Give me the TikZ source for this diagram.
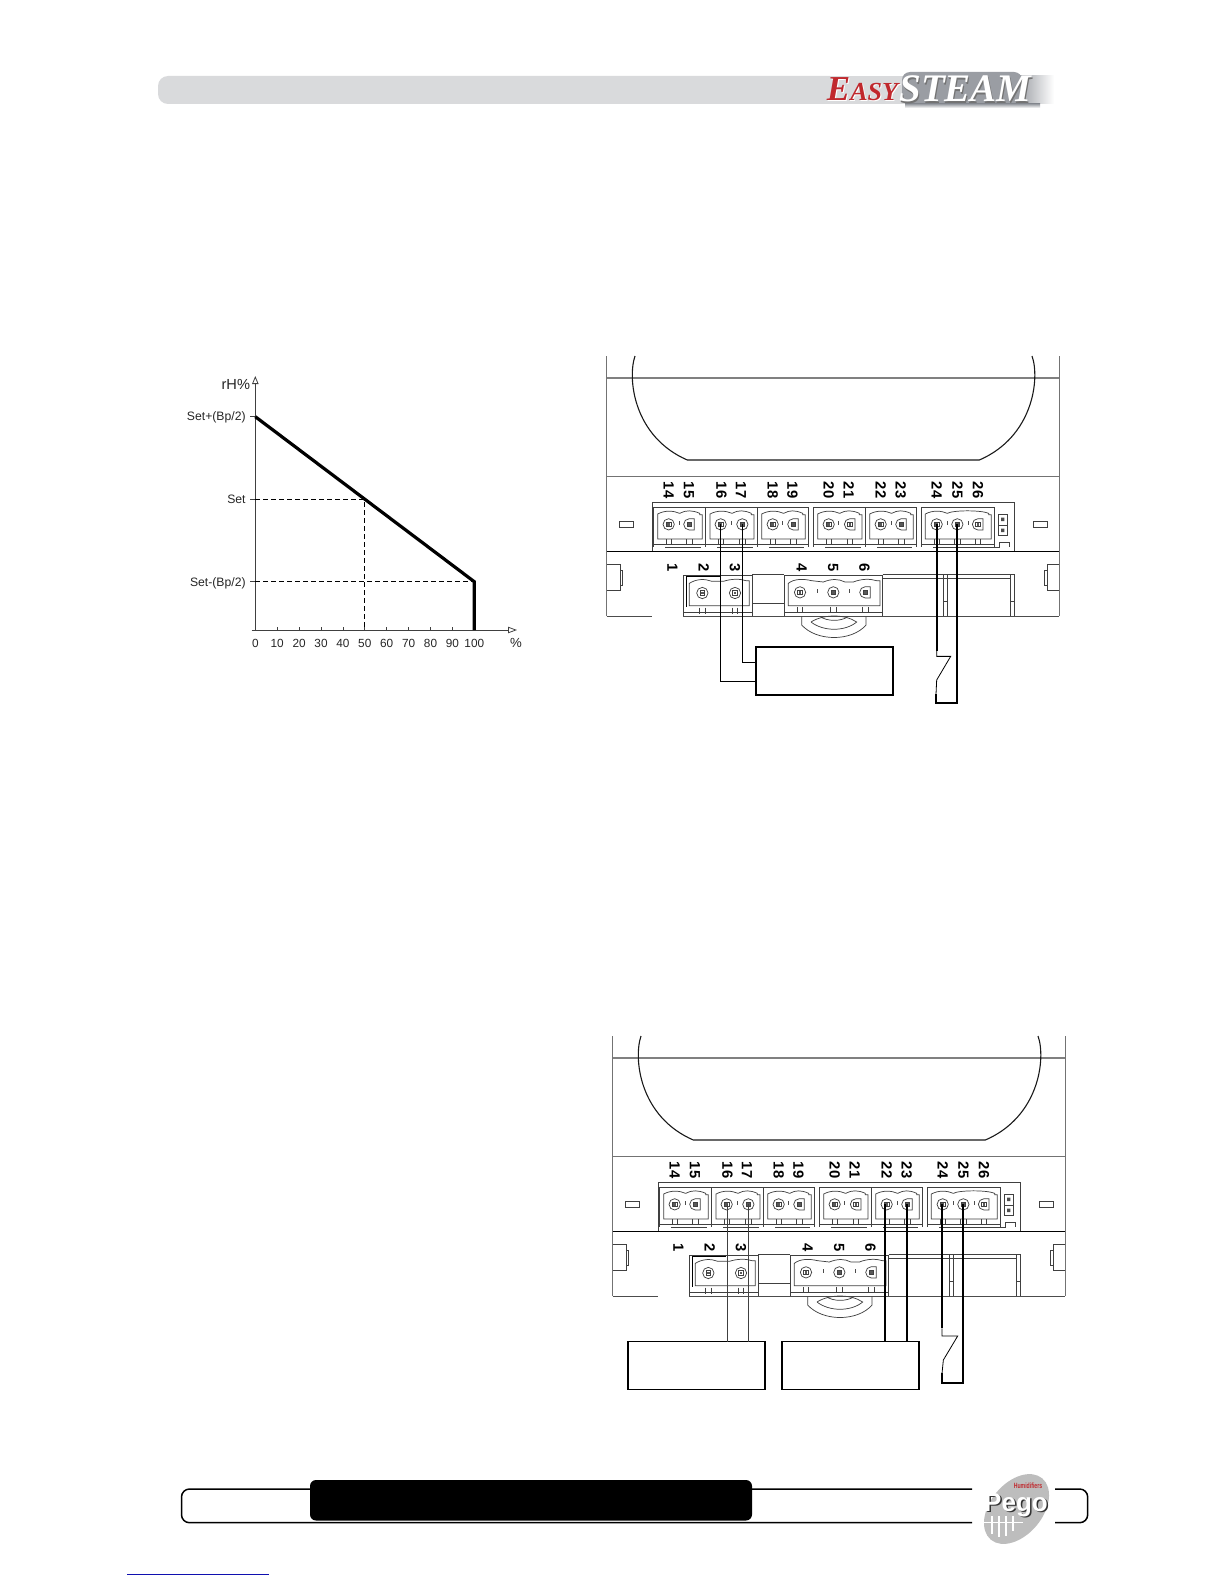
\documentclass[tikz,border=0pt]{standalone}
\usepackage{fontspec}
\setmainfont{Liberation Sans}
\newfontfamily\logoserif{Liberation Serif}
\usetikzlibrary{arrows.meta,calc}
\definecolor{bargray}{HTML}{D9DADC}
\definecolor{plategray}{HTML}{9A9DA3}
\definecolor{logored}{HTML}{C0282D}
\definecolor{logogray}{HTML}{BDBDBD}
\definecolor{linkblue}{HTML}{1010B0}
\tikzset{
  hair/.style={line width=0.36pt,draw=black!75},
  thin wire/.style={line width=0.5pt,draw=black},
  thick wire/.style={line width=0.9pt,draw=black},
  axis line/.style={line width=0.4pt,draw=black!75},
  curve line/.style={line width=1.6pt,draw=black},
  dash line/.style={line width=0.6pt,draw=black,dash pattern=on 2.4pt off 1.6pt},
  numlab/.style={inner sep=0pt,rotate=-90,font=\fontsize{7.4}{7}\selectfont\bfseries},
  ticklab/.style={inner sep=0pt,font=\fontsize{5.9}{6}\selectfont,text=black!85},
  setlab/.style={inner sep=0pt,anchor=east,font=\fontsize{6.1}{6}\selectfont,text=black!85},
  devbox/.style={draw=black,line width=0.85pt,fill=white,inner sep=0pt,minimum width=68.7pt,minimum height=24pt},
}
% one screw terminal: x, y, D-shaped?
\newcommand{\screwpin}[3]{%
  \ifnum#3=1
    \draw[hair] (#1+15,#2-17) -- (#1,#2-17) arc[start angle=-90,end angle=-270,radius=17] -- (#1+15,#2+17) -- cycle;
  \else
    \draw[hair] (#1,#2) circle[radius=17];
  \fi
  \draw[hair] (#1-7,#2-7) rectangle (#1+7,#2+7);
  \fill[black!65] (#1-4,#2-4) rectangle (#1+4,#2+4);
  \draw[hair] (#1-8,#2+44) -- (#1-8,#2+62) (#1+8,#2+44) -- (#1+8,#2+62);
}
% scalloped plug body: left, right, top, bottom
\newcommand{\plugbody}[4]{%
  \draw[hair] (#1,#4) -- (#1,#3+8) .. controls (#1+22,#3-4) and (#1+48,#3-2) .. (#1+66,#3+6)
     .. controls (#1+84,#3-4) and (#2-30,#3-4) .. (#2-8,#3+6) -- (#2-8,#3+10) -- (#2,#3+10) -- (#2,#4) -- cycle;
}
\newcommand{\upgroup}[2]{%
  \draw[hair] (#1,503) -- (#2,503) (#1,503) -- (#1,622) (#2,503) -- (#2,622) (#1,612) -- (#2,612) (#1+35,622) -- (#2-14,622);
  \plugbody{#1+13}{#2-10}{514}{597}
}
\newcommand{\housing}{%
  % outline and cover
  \draw[line width=0.55pt,draw=black!55] (50,48) -- (50,829) (1408,48) -- (1408,829);
  \draw[line width=1.1pt,draw=black!50] (50,115) -- (1408,115);
  \draw[line width=0.5pt,draw=black!55] (50,408) -- (1408,408);
  \draw[line width=0.5pt,draw=black] (50,633) -- (1408,633);
  \draw[line width=0.55pt,draw=black!90] (135,48) .. controls (112,115) and (130,290) .. (292,360) -- (1168,360)
     .. controls (1330,290) and (1350,115) .. (1326,48);
  % upper terminal strip
  \draw[hair] (187,633) -- (187,487) -- (1274,487) -- (1274,633);
  \upgroup{190}{347}\upgroup{347}{502}\upgroup{502}{656}\upgroup{670}{826}\upgroup{826}{980}
  \draw[hair] (993,503) -- (1214,503) (993,503) -- (993,622) (1214,503) -- (1214,622) (993,612) -- (1214,612) (1030,622) -- (1228,622) -- (1228,608) -- (1258,608) -- (1258,622);
  \plugbody{1006}{1204}{514}{597}
  \foreach \p/\d in {236/0,298/1,392/0,457/0,548/0,610/1,716/0,780/1,872/0,934/1,1040/0,1102/0,1164/1}{\screwpin{\p}{553}{\d}}
  \foreach \p in {267,423,578,746,903,1071,1134}{\fill[black!70] (\p-1.5,544) rectangle (\p+1.5,556);}
  % small windows and jumper
  \draw[hair] (88,545) rectangle (130,563) (1331,545) rectangle (1373,563);
  \draw[hair] (1225,524) rectangle (1252,586) (1225,555) -- (1252,555);
  \fill[black!70] (1233,533) rectangle (1243,543) (1233,566) rectangle (1243,576);
  % lower terminal strip
  \draw[hair] (281,829) -- (281,706) -- (487,706) -- (487,829);
  \draw[line width=0.5pt,draw=black] (290,800) -- (290,710) -- (390,710);
  \draw[hair] (298,797) -- (298,730) .. controls (320,716) and (345,716) .. (366,724) -- (400,724) .. controls (425,716) and (450,716) .. (468,722) -- (478,722) -- (478,797) -- cycle;
  \draw[hair] (281,818) -- (487,818);
  \draw[hair] (583,829) -- (583,706) -- (878,706) -- (878,829);
  \draw[hair] (595,797) -- (595,730) .. controls (612,716) and (640,716) .. (665,722) -- (700,726) .. controls (725,716) and (745,716) .. (765,726) -- (790,726) .. controls (815,716) and (840,716) .. (860,722) -- (870,722) -- (870,797) -- cycle;
  \draw[hair] (583,818) -- (878,818);
  \foreach \p/\q/\d in {337/759/0,435/759/0,630/757/0,730/757/0,826/757/1}{\screwpin{\p}{\q}{\d}}
  \foreach \p in {683,778}{\fill[black!70] (\p-1.5,748) rectangle (\p+1.5,760);}
  \draw[hair] (487,703) -- (583,703) (487,790) -- (583,790);
  \draw[hair] (878,703) -- (1274,703) (878,716) -- (1262,716)
     (1060,703) -- (1060,829) (1072,703) -- (1072,829) (1262,703) -- (1262,829) (1274,703) -- (1274,829)
     (1060,785) -- (1072,785) (1262,785) -- (1274,785);
  \draw[line width=0.5pt,draw=black!70] (50,829) -- (185,829) (280,829) -- (1408,829);
  % side clips
  \draw[hair] (50,672) -- (90,672) -- (90,752) -- (50,752) (90,692) -- (97,692) -- (97,735) -- (90,735);
  \draw[hair] (1408,672) -- (1372,672) -- (1372,752) -- (1408,752) (1372,692) -- (1363,692) -- (1363,735) -- (1372,735);
  % latch below the housing
  \draw[hair] (635,829) -- (635,855) .. controls (680,905) and (785,905) .. (828,855) -- (828,829);
  \draw[hair] (663,846) .. controls (700,822) and (765,822) .. (800,846) .. controls (765,875) and (700,875) .. (663,846);
  \draw[hair] (690,829) .. controls (710,845) and (755,845) .. (775,829);
  % terminal numbers
  \foreach \n/\x in {14/236,15/297,16/394,17/453,18/548,19/607,20/716,21/776,22/872,23/932,24/1040,25/1102,26/1164}{
    \node[numlab] (n\n) at (\x,450) {\n};
  }
  \foreach \n/\x in {1/247,2/341,3/435,4/635,5/729,6/823}{
    \node[numlab] (n\n) at (\x,684) {\n};
  }
}
\begin{document}
\begin{tikzpicture}[x=0.5pt,y=-0.5pt]
\useasboundingbox (0,0) rectangle (1224,1584);
\fill[white] (0,0) rectangle (1224,1584);

% ---------- header bar ----------
\fill[bargray,rounded corners=5pt] (158,76) -- (158,104) -- (840,104) -- (840,76) -- cycle;
\fill[bargray] (830,76) rectangle (905,104);
\shade[left color=plategray,right color=white] (1018,76) rectangle (1054,104);
\fill[plategray,rounded corners=4pt] (902,72) rectangle (1022,104);
\shade[top color=plategray,bottom color=white] (905,104) rectangle (1040,108);
\node[inner sep=0pt,text=black!55] (steamshadow) at (966.5,90.5) {\logoserif\fontsize{19.5}{20}\selectfont\bfseries\itshape STEAM};
\node[inner sep=0pt,text=white] (steam) at (965.5,89) {\logoserif\fontsize{19.5}{20}\selectfont\bfseries\itshape STEAM};
\node[inner sep=0pt,text=white] (easyshadow) at (863.5,90) {\logoserif\bfseries\itshape{\fontsize{17.5}{18}\selectfont E}{\fontsize{13}{14}\selectfont ASY}};
\node[inner sep=0pt,text=logored] (easy) at (862.5,89) {\logoserif\bfseries\itshape{\fontsize{17.5}{18}\selectfont E}{\fontsize{13}{14}\selectfont ASY}};

% ---------- chart ----------
\coordinate (o) at (255.3,630);
\coordinate (ytop) at (255.3,376);
\coordinate (xend) at (517,630);
\draw[axis line,-{Triangle[open,length=4pt,width=3.2pt]}] (255.3,630) -- (ytop);
\draw[axis line,-{Triangle[open,length=4.5pt,width=3.2pt]}] (251.5,630) -- (xend);
\foreach \v [evaluate=\v as \xx using 255.3+2.19*\v] in {0,10,...,100}{
  \draw[axis line] (\xx,630) -- (\xx,627);
  \node[ticklab] (x\v) at (\xx,643.5) {\v};
}
\node[inner sep=0pt,font=\fontsize{7.3}{7}\selectfont,text=black!85] (ylab) at (235.8,384) {rH\%};
\node[inner sep=0pt,font=\fontsize{6.6}{7}\selectfont,text=black!85] (xlab) at (516,643) {\%};
\node[setlab] (sp) at (246,417.8) {Set+(Bp/2)};
\node[setlab] (st) at (246,499.3) {Set};
\node[setlab] (sm) at (246,583.5) {Set-(Bp/2)};
\draw[axis line] (250,416.7) -- (255.3,416.7) (250,499.3) -- (255.3,499.3) (250,581.7) -- (255.3,581.7);
\coordinate (a50) at (364.5,499.3);
\coordinate (b50) at (364.5,630);
\coordinate (a100) at (474.3,581.7);
\coordinate (b100) at (474.3,630);
\coordinate (a0) at (255.3,416.7);
\draw[dash line] (255.3,499.3) -- (a50) -- (b50);
\draw[dash line] (255.3,581.7) -- (a100);
\draw[curve line,line join=miter] (a0) -- (a100) -- (b100);

% ---------- first wiring drawing ----------
\begin{scope}[shift={(590,340)},x=0.166667pt,y=-0.166667pt,name prefix=a-]
  \housing
  \node[devbox] (box) at (703,992.5) {};
  \coordinate (wa) at (box.west |- 0,1023);
  \coordinate (wb) at (box.west |- 0,967);
  \draw[thin wire] (392,553) |- (wa);
  \draw[thin wire] (457,553) |- (wb);
  \coordinate (sw) at (1082,949);
  \coordinate (swb) at (1040,1020);
  \coordinate (swc) at (1038,1090);
  \draw[thick wire] (1040,553) -- (1040,932);
  \draw[line width=0.4pt] (1040,932) -- (1040,949) -- (sw) -- (swb) -- (1038,1062);
  \draw[thick wire] (1038,1062) -- (swc) -- (1102,1090) -- (1102,553);
\end{scope}

% ---------- second wiring drawing ----------
\begin{scope}[shift={(596,1020)},x=0.166667pt,y=-0.166667pt,name prefix=b-]
  \housing
  \node[devbox] (boxl) at (301.5,1036.5) {};
  \node[devbox] (boxr) at (763.5,1036.5) {};
  \draw[thin wire,draw=black!75] (393,553) -- (393,965);
  \draw[thin wire,draw=black!75] (457,553) -- (457,965);
  \draw[thick wire] (868,553) -- (868,965);
  \draw[thick wire] (933,553) -- (933,965);
  \coordinate (sw) at (1085,948);
  \coordinate (swb) at (1042,1020);
  \coordinate (swc) at (1038,1088);
  \draw[thick wire] (1038,553) -- (1038,925);
  \draw[line width=0.4pt] (1038,925) -- (1038,948) -- (sw) -- (swb) -- (1038,1060);
  \draw[thick wire] (1038,1060) -- (swc) -- (1102,1088) -- (1102,553);
\end{scope}

% ---------- footer ----------
\draw[line width=0.75pt,rounded corners=4pt] (972,1489) -- (181.5,1489) -- (181.5,1522.7) -- (972,1522.7);
\draw[line width=0.75pt,rounded corners=4pt] (1055,1489) -- (1087.7,1489) -- (1087.7,1522.7) -- (1055,1522.7);
\fill[black,rounded corners=3pt] (310,1480) rectangle (752,1520.5);
% logo
\fill[logogray,rotate around={50:(1016.5,1509)}] (1016.5,1509) ellipse[x radius=40,y radius=26];
\draw[white,line width=0.6pt] (983,1522.7) -- (1023,1522.7);
\foreach \p/\q in {992/1534,999/1537,1006/1536,1013/1531}{\draw[white,line width=0.9pt] (\p,1516) -- (\p,\q);}
\node[inner sep=0pt,text=black!80] (pegoshadow) at (1017.5,1506.5) {\fontsize{13}{13}\selectfont\bfseries Pego};
\node[inner sep=0pt,text=white] (pego) at (1016,1505) {\fontsize{13}{13}\selectfont\bfseries Pego};
\node[inner sep=0pt,text=logored,xscale=0.68,font=\fontsize{3.8}{4}\selectfont\bfseries] (humid) at (1028,1485.5) {Humidifiers};
% link underline
\draw[linkblue,line width=0.5pt] (127,1574) -- (269,1574);
\end{tikzpicture}
\end{document}
